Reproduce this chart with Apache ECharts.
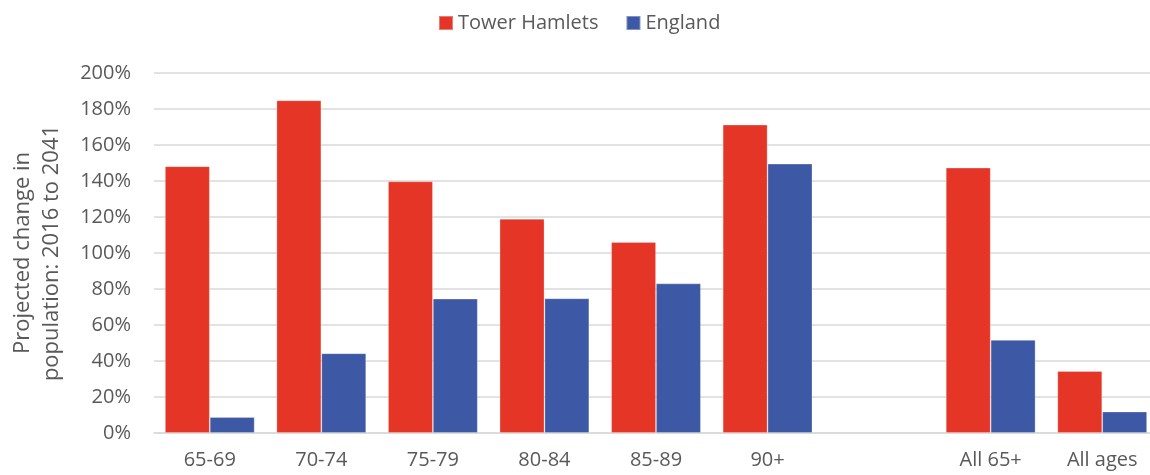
<!DOCTYPE html>
<html>
<head>
<meta charset="utf-8">
<script src="https://cdn.jsdelivr.net/npm/echarts@6/dist/echarts.min.js"></script>
<style>html,body{margin:0;padding:0;background:#fff;overflow:hidden;width:1150px;height:475px}#c{width:1158px;height:475px}</style>
</head>
<body>
<div id="c"></div>
<script>
var categories = ['65-69', '70-74', '75-79', '80-84', '85-89', '90+', '', 'All 65+', 'All ages'];
var towerHamlets = [148.2, 184.8, 139.8, 119.0, 106.1, 171.3, null, 147.4, 34.4];
var england = [8.9, 44.3, 74.6, 74.8, 83.1, 149.6, null, 51.7, 11.9];
var yTicks = [0, 20, 40, 60, 80, 100, 120, 140, 160, 180, 200];

var font = '"Open Sans", sans-serif';
var txt = '#595959';
var chart = echarts.init(document.getElementById('c'), null, {renderer: 'canvas'});
chart.setOption({
  animation: false,
  textStyle: {fontFamily: font},
  legend: {
    top: 8, left: 433, itemWidth: 14, itemHeight: 14, itemGap: 27,
    textStyle: {fontFamily: font, fontSize: 20, color: txt},
    data: [{name: 'Tower Hamlets', icon: 'rect'}, {name: 'England', icon: 'rect'}]
  },
  grid: {left: 150, top: 73, width: 1008, height: 360, containLabel: false},
  xAxis: {
    type: 'category', data: categories,
    axisLine: {lineStyle: {color: '#d9d9d9', width: 1.5}},
    axisTick: {show: false},
    axisLabel: {fontFamily: font, fontSize: 20, color: txt, margin: 17, interval: 0}
  },
  yAxis: {
    type: 'value', min: yTicks[0], max: yTicks[yTicks.length - 1], interval: 20,
    name: 'Projected change in\npopulation: 2016 to 2041',
    nameLocation: 'middle', nameRotate: 90, nameGap: 88,
    nameTextStyle: {fontFamily: font, fontSize: 22, color: txt, lineHeight: 29},
    axisLine: {show: false}, axisTick: {show: false},
    axisLabel: {fontFamily: font, fontSize: 20, color: txt, margin: 23, formatter: '{value}%'},
    splitLine: {lineStyle: {color: '#d9d9d9', width: 1.5}}
  },
  series: [
    {name: 'Tower Hamlets', type: 'bar', data: towerHamlets, barGap: '0%', barCategoryGap: '19.6%',
     itemStyle: {color: '#e43526', borderColor: 'rgba(255,255,255,0.35)', borderWidth: 0.8}},
    {name: 'England', type: 'bar', data: england, barGap: '0%', barCategoryGap: '19.6%',
     itemStyle: {color: '#3d58a5', borderColor: 'rgba(255,255,255,0.35)', borderWidth: 0.8}}
  ]
});
</script>
</body>
</html>
